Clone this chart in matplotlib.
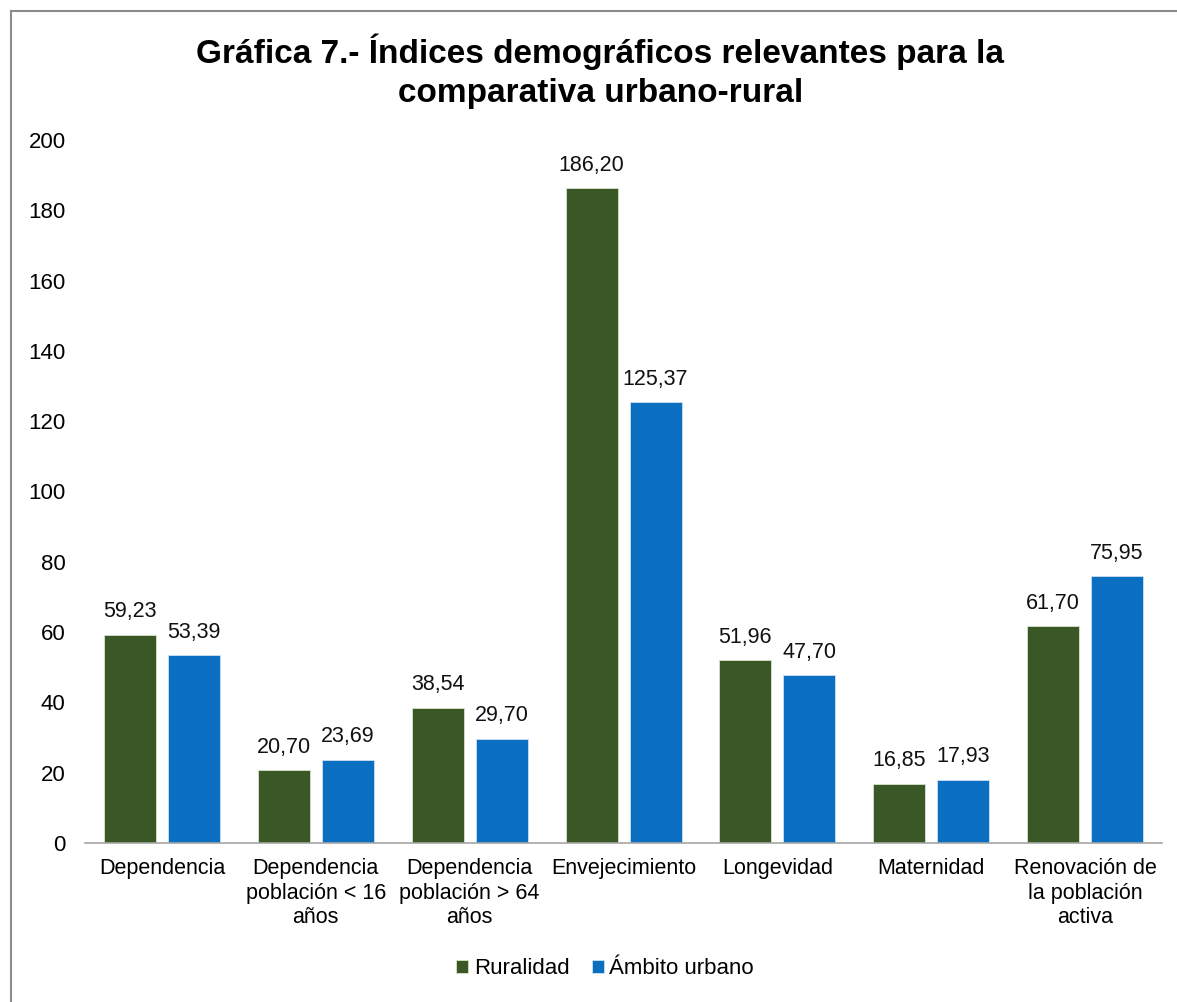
import numpy as np
import matplotlib
matplotlib.use('Agg')
import matplotlib.pyplot as plt

plt.rcParams['font.family'] = ['Liberation Sans', 'DejaVu Sans']

categorias = ['Dependencia', 'Dependencia\npoblación < 16\naños',
              'Dependencia\npoblación > 64\naños', 'Envejecimiento',
              'Longevidad', 'Maternidad', 'Renovación de\nla población\nactiva']
ruralidad = [59.23, 20.70, 38.54, 186.20, 51.96, 16.85, 61.70]
urbano = [53.39, 23.69, 29.70, 125.37, 47.70, 17.93, 75.95]
series = ['Ruralidad', 'Ámbito urbano']
colores = ['#3a5726', '#0b6fc1']
bordes = ['#d9e4d0', '#cfe2f5']

fig = plt.figure(figsize=(11.77, 10.02), dpi=100)
ax = fig.add_axes([0.0722, 0.1587, 0.9151, 0.7016])

# thin frame around the chart area (left and top edges only)
fig.add_artist(plt.Line2D([0.0093, 0.0093], [0, 0.989], color='#8c8c8c', lw=1.5,
                          transform=fig.transFigure))
fig.add_artist(plt.Line2D([0.0093, 1.0], [0.989, 0.989], color='#8c8c8c', lw=1.5,
                          transform=fig.transFigure))

x = np.arange(len(categorias))
ancho = 0.338
desp = 0.208

for vals, off, col, borde, nombre in zip([ruralidad, urbano], [-desp, desp], colores, bordes, series):
    barras = ax.bar(x + off, vals, ancho, color=col, edgecolor=borde,
                    linewidth=0.6, label=nombre, zorder=2)
    for b, v in zip(barras, vals):
        ax.annotate(f'{v:.2f}'.replace('.', ','), (b.get_x() + b.get_width() / 2, v),
                    xytext=(0, 9), textcoords='offset points', ha='center', va='bottom',
                    fontsize=15.5, color='#111111')

ax.set_xlim(-0.5, len(categorias) - 0.5)
ax.set_ylim(0, 200)
ax.set_yticks(range(0, 201, 20))
ax.set_xticks(x)
ax.set_xticklabels(categorias, fontsize=15.5, linespacing=1.22)
ax.tick_params(axis='y', length=0, pad=14, labelsize=16)
ax.tick_params(axis='x', length=0, pad=11)

for s in ['top', 'right', 'left']:
    ax.spines[s].set_visible(False)
ax.spines['bottom'].set_color('#a6a6a6')
ax.spines['bottom'].set_linewidth(1.2)

fig.text(0.51, 0.929, 'Gráfica 7.- Índices demográficos relevantes para la\ncomparativa urbano-rural',
         ha='center', va='center', fontsize=24, fontweight='bold', linespacing=1.32)

fig.legend(loc='center', bbox_to_anchor=(0.514, 0.033), ncol=2, frameon=False,
           fontsize=16, handlelength=0.55, handleheight=0.55, handletextpad=0.25,
           columnspacing=1.0)

fig.savefig('out.png', dpi=100, facecolor='white')
